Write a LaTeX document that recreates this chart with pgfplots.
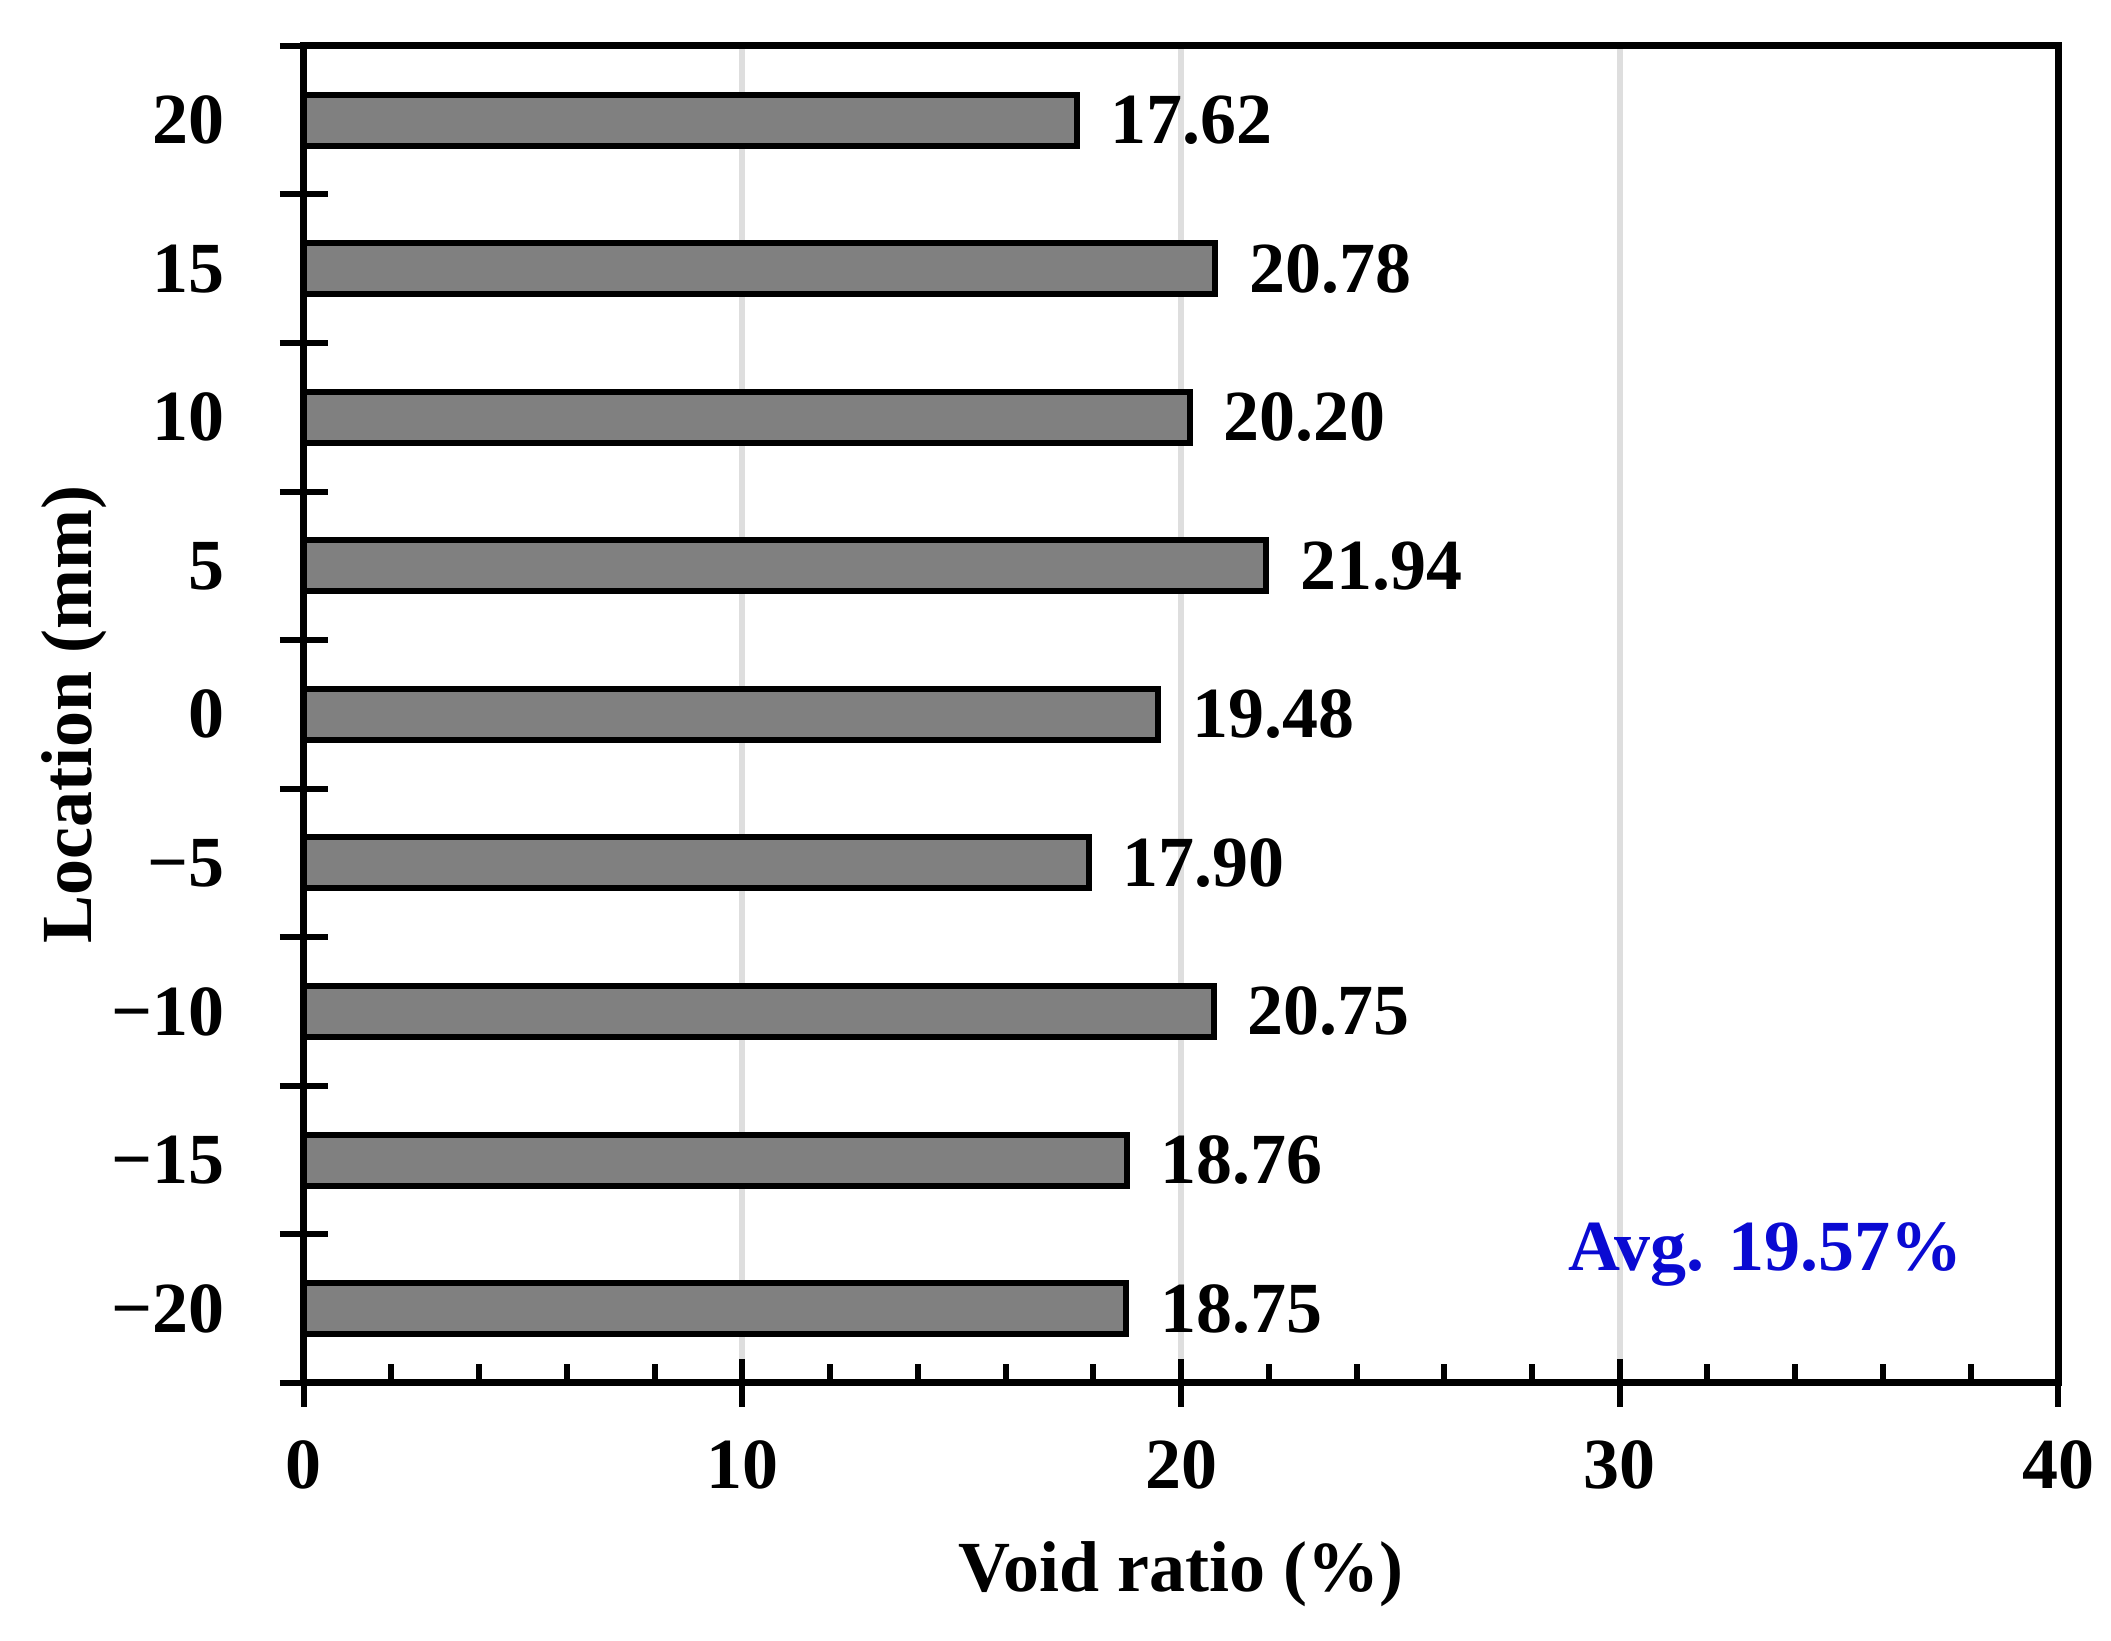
\documentclass[border=0pt]{standalone}
\usepackage{fontspec}
\setmainfont{Liberation Serif}
\usepackage{pgfplots}
\pgfplotsset{compat=1.18}
\usepackage{pgfplotstable}
\definecolor{barfill}{RGB}{128,128,128}
\definecolor{gridc}{RGB}{222,222,222}
\definecolor{avgblue}{RGB}{10,10,210}
\pgfplotstableread{
idx val lab
0 18.75 18.75
1 18.76 18.76
2 20.75 20.75
3 17.90 17.90
4 19.48 19.48
5 21.94 21.94
6 20.20 20.20
7 20.78 20.78
8 17.62 17.62
}\datatable
\newcommand\lblfont{\bfseries\fontsize{14.4}{17}\selectfont}
\begin{document}
\begin{tikzpicture}
\begin{axis}[
  width=351.2pt, height=267.6pt, scale only axis,
  xmin=0, xmax=40, ymin=-0.5, ymax=8.5,
  clip=false,
  xbar, bar width=10.2pt,
  axis line style={line width=1.4pt},
  tick pos=left,
  tick align=center,
  major tick length=9.6pt,
  minor tick length=3.8pt,
  every tick/.style={black, line width=1.2pt},
  every minor tick/.append style={yshift=1.9pt},
  xtick={0,10,20,30,40},
  xticklabels={0,10,20,30,40},
  minor x tick num=4,
  ytick={-0.5,0.5,...,8.5},
  yticklabels={},
  extra y ticks={0,1,2,3,4,5,6,7,8},
  extra y tick labels={−20,−15,−10,−5,0,5,10,15,20},
  extra y tick style={major tick length=2.4pt, tick align=inside, ymajorgrids=false,
    yticklabel style={xshift=-12.4pt}},
  xticklabel style={yshift=-3.2pt},
  xmajorgrids,
  major grid style={gridc, line width=1.2pt},
  ticklabel style={font=\lblfont},
  label style={font=\lblfont},
  xlabel={Void ratio (\%)},
  ylabel={Location (mm)},
  xlabel style={at={([yshift=-38.2pt]axis description cs:0.5,0)}, anchor=center},
  ylabel style={at={([xshift=-46pt]axis description cs:0,0.5)}, anchor=center},
  nodes near coords,
  point meta=explicit symbolic,
  every node near coord/.append style={font=\lblfont, anchor=west, inner sep=0pt, xshift=6.2pt, black},
]
\addplot[fill=barfill, draw=black, line width=1.2pt] table[x=val, y=idx, meta=lab] {\datatable};
\node[font=\lblfont, text=avgblue, anchor=base west, inner sep=0pt] at (axis cs:28.8,0.26) {Avg. 19.57\%};
\path ([xshift=-60.8pt,yshift=-51.6pt]rel axis cs:0,0) -- ([xshift=10.2pt,yshift=9.2pt]rel axis cs:1,1);
\end{axis}
\end{tikzpicture}
\end{document}
